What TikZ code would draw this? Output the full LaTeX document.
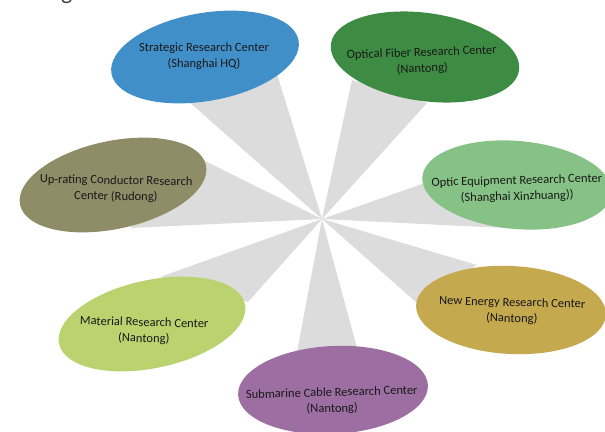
\documentclass[tikz,border=0pt]{standalone}
\usepackage{fontspec}
\setmainfont{Carlito}
\usetikzlibrary{shapes.geometric,calc,backgrounds}
\definecolor{strategic}{HTML}{418FC8}
\definecolor{fiber}{HTML}{3E8C43}
\definecolor{optic}{HTML}{86C286}
\definecolor{energy}{HTML}{C4A94E}
\definecolor{cable}{HTML}{9C6EA1}
\definecolor{material}{HTML}{BBD36E}
\definecolor{conductor}{HTML}{8E8D67}
\definecolor{spokegray}{HTML}{DCDCDC}

\begin{document}
\begin{tikzpicture}[x=1pt,y=-1pt,
    center node/.style={ellipse,minimum width=190pt,minimum height=88pt,inner sep=0pt},
    name node/.style={align=center,font=\fontsize{12.5}{16}\selectfont,text=black!90},
    spoke/.style={fill=spokegray}]

  \useasboundingbox (0,0) rectangle (605,431);
  \node[anchor=base east,font=\fontsize{24}{24}\selectfont,text=black!75] (heading) at (82,-1) {ning.};
  \coordinate (hub) at (322,219);

  \node[center node,fill=strategic,rotate=10] (strategic) at (205,57) {};
  \node[name node] (strategic text) at (204,56) {Strategic Research Center\\(Shanghai HQ)};

  \node[center node,fill=fiber,rotate=-8] (fiber) at (425,57) {};
  \node[name node,rotate=2] (fiber text) at (422,61) {Optical Fiber Research Center\\(Nantong)};

  \node[center node,fill=optic,rotate=-5] (optic) at (517,185) {};
  \node[name node,rotate=1.5] (optic text) at (517,189) {Optic Equipment Research Center\\(Shanghai Xinzhuang))};

  \node[center node,fill=energy,rotate=-3] (energy) at (511,310) {};
  \node[name node,rotate=-1.5] (energy text) at (512,311) {New Energy Research Center\\(Nantong)};

  \node[center node,fill=cable,rotate=3] (cable) at (333,390) {};
  \node[name node,rotate=1.5] (cable text) at (332,401) {Submarine Cable Research Center\\(Nantong)};

  \node[center node,fill=material,rotate=12] (material) at (152,324) {};
  \node[name node,rotate=-1.5] (material text) at (144,331) {Material Research Center\\(Nantong)};

  \node[center node,fill=conductor,rotate=12] (conductor) at (113,185) {};
  \node[name node,rotate=-1] (conductor text) at (116,189) {Up-rating Conductor Research\\Center (Rudong)};

  \begin{scope}[on background layer]
    \fill[spoke] (hub) -- ($(strategic)+(-17,44)$) -- ($(strategic)+(72,17)$) -- cycle;
    \fill[spoke] (hub) -- ($(fiber)+(-73,23)$) -- ($(fiber)+(2,46)$) -- cycle;
    \fill[spoke] (hub) -- ($(optic)+(-92,-2)$) -- ($(optic)+(8,44)$) -- cycle;
    \fill[spoke] (hub) -- ($(energy)+(-34,-45)$) -- ($(energy)+(-94,-7)$) -- cycle;
    \fill[spoke] (hub) -- ($(cable)+(24,-42)$) -- ($(cable)+(-36,-38)$) -- cycle;
    \fill[spoke] (hub) -- ($(material)+(8,-47)$) -- ($(material)+(96,-22)$) -- cycle;
    \fill[spoke] (hub) -- ($(conductor)+(90,-25)$) -- ($(conductor)+(17,43)$) -- cycle;
  \end{scope}
\end{tikzpicture}
\end{document}
